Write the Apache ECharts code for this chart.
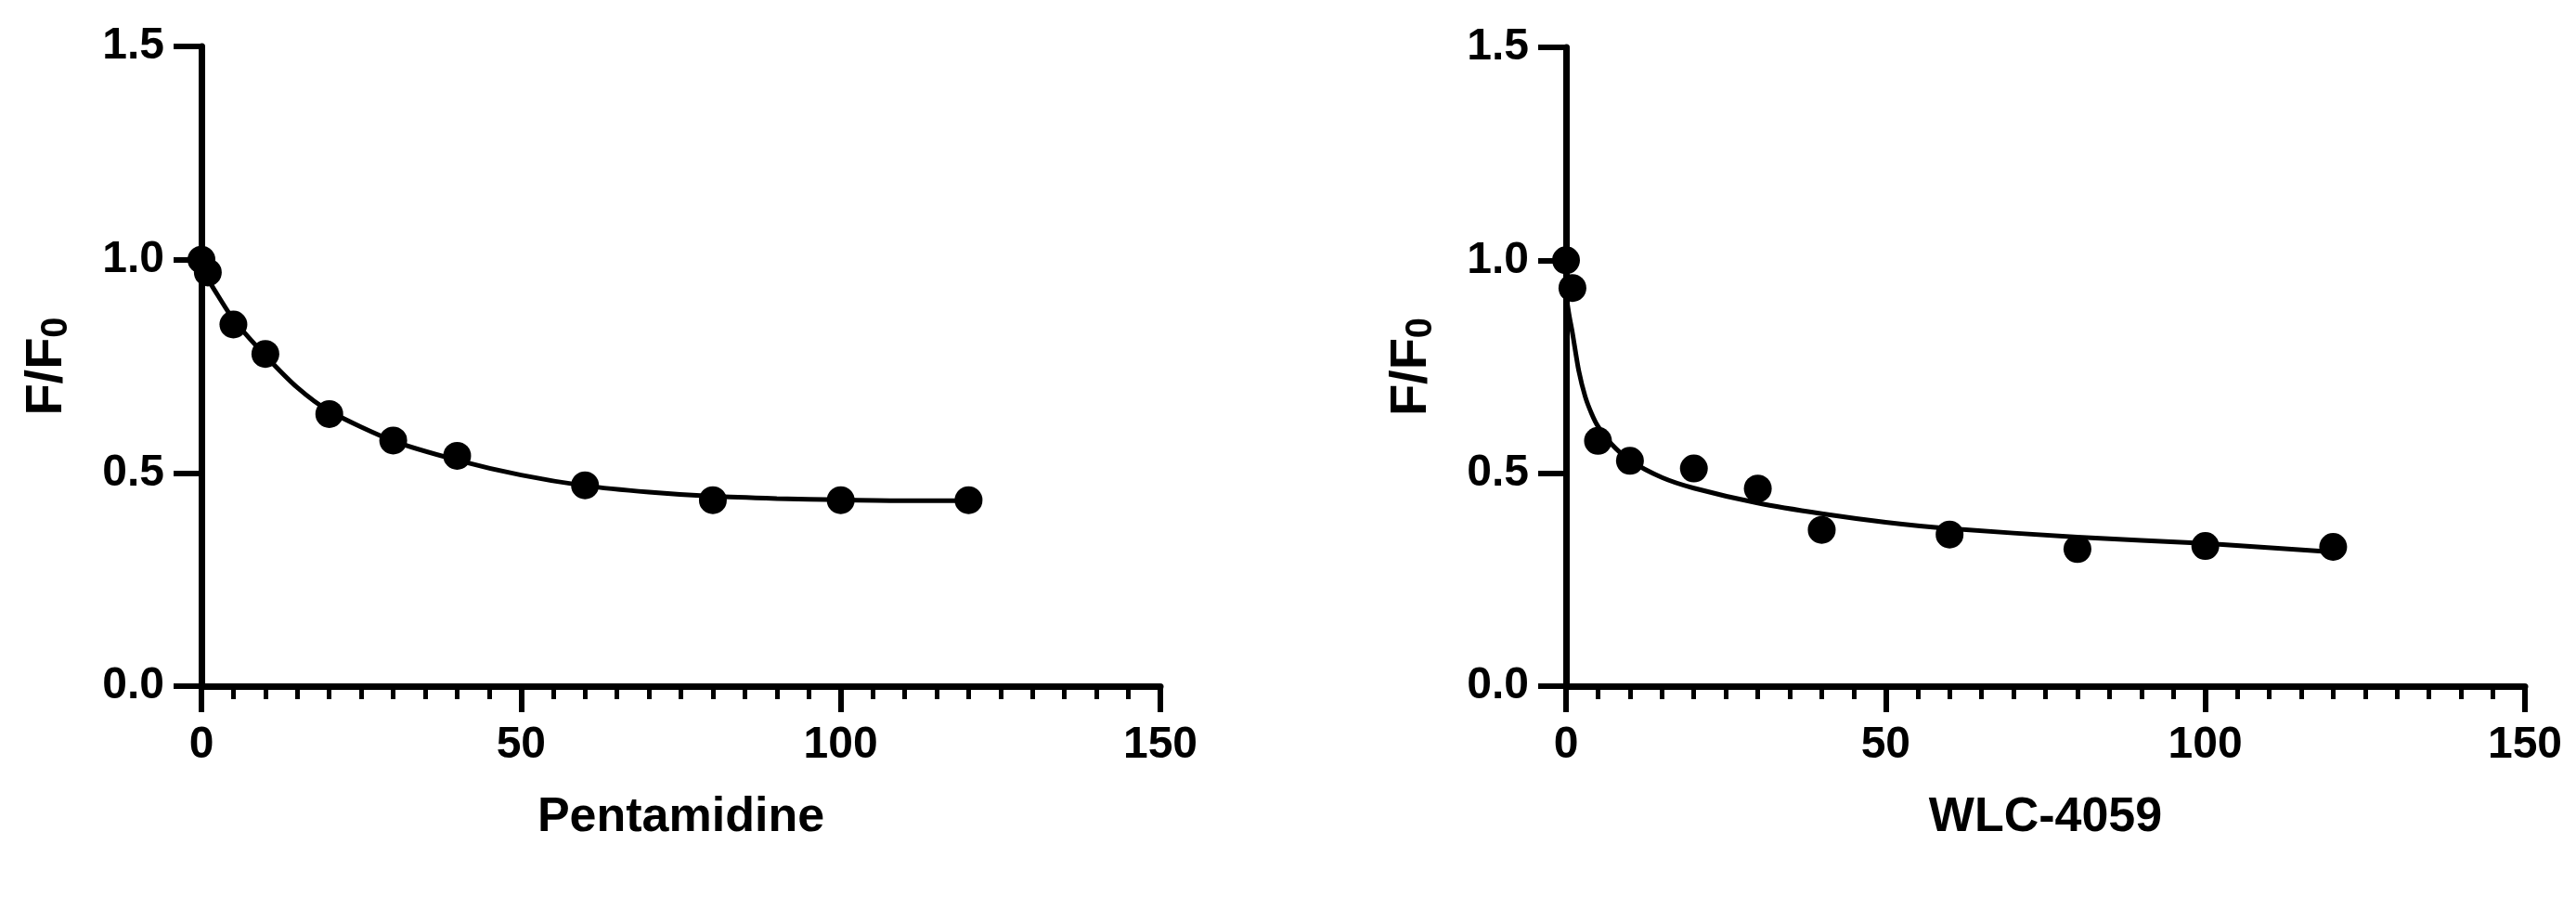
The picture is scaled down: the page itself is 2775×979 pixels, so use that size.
<!DOCTYPE html>
<html>
<head>
    <meta charset="UTF-8">
    <title>F/F0 quenching</title>
    <script src="https://cdn.jsdelivr.net/npm/echarts@6/dist/echarts.min.js"></script>
    <style>
        html, body { margin: 0; padding: 0; background: #fff; }
        #main { width: 2775px; height: 979px; }
    </style>
</head>
<body>
<div id="main"></div>
<script type="text/javascript">
    // measured points
    let pentaX = [0, 1, 5, 10, 20, 30, 40, 60, 80, 100, 120];
    let pentaY = [1.00, 0.97, 0.848, 0.779, 0.638, 0.576, 0.540, 0.471, 0.436, 0.436, 0.436];
    let wlcX = [0, 1, 5, 10, 20, 30, 40, 60, 80, 100, 120];
    let wlcY = [1.00, 0.935, 0.576, 0.529, 0.511, 0.464, 0.367, 0.356, 0.322, 0.329, 0.327];

    // fitted curves
    let pentaFitX = [0, 2, 5, 10, 15, 20, 30, 40, 50, 60, 70, 80, 90, 100, 110, 120];
    let pentaFitY = [0.98, 0.93, 0.86, 0.775, 0.70, 0.645, 0.575, 0.530, 0.495, 0.470, 0.455, 0.445, 0.440, 0.437, 0.435, 0.435];
    let wlcFitX = [0, 0.5, 1, 2, 3, 4, 5, 7, 10, 15, 20, 30, 40, 50, 60, 80, 100, 120];
    let wlcFitY = [0.92, 0.87, 0.83, 0.74, 0.68, 0.64, 0.61, 0.57, 0.53, 0.49, 0.465, 0.43, 0.405, 0.385, 0.37, 0.35, 0.335, 0.315];

    let xTicks = [0, 50, 100, 150];
    let yTicks = [0, 0.5, 1.0, 1.5];
    let names = ['Pentamidine', 'WLC-4059'];

    function pairs(xs, ys) {
        return xs.map(function (x, i) { return [x, ys[i]]; });
    }

    let font = '"Liberation Sans", Arial, sans-serif';
    let black = '#000';

    function xAxis(idx, name) {
        return {
            type: 'value', gridIndex: idx,
            min: xTicks[0], max: xTicks[xTicks.length - 1], interval: 50,
            name: name, nameLocation: 'middle', nameGap: 116,
            nameTextStyle: { fontFamily: font, fontWeight: 'bold', fontSize: 52, color: black },
            axisLine: { lineStyle: { color: black, width: 7 } },
            axisTick: { length: 28, lineStyle: { color: black, width: 6 } },
            minorTick: { show: true, splitNumber: 10, length: 14, lineStyle: { color: black, width: 5 } },
            splitLine: { show: false },
            axisLabel: { margin: 40, fontFamily: font, fontWeight: 'bold', fontSize: 48, color: black }
        };
    }

    function yAxis(idx) {
        return {
            type: 'value', gridIndex: idx,
            min: yTicks[0], max: yTicks[yTicks.length - 1], interval: 0.5,
            name: '{a|F/F}{b|0}', nameLocation: 'middle', nameGap: 136, nameRotate: 90,
            nameTextStyle: {
                rich: {
                    a: { fontFamily: font, fontWeight: 'bold', fontSize: 56, color: black, lineHeight: 60, verticalAlign: 'middle' },
                    b: { fontFamily: font, fontWeight: 'bold', fontSize: 40, color: black, lineHeight: 40, verticalAlign: 'bottom', padding: [30, 0, 0, 0] }
                }
            },
            axisLine: { lineStyle: { color: black, width: 7 } },
            axisTick: { length: 30, lineStyle: { color: black, width: 6 } },
            splitLine: { show: false },
            axisLabel: {
                margin: 40, fontFamily: font, fontWeight: 'bold', fontSize: 48, color: black,
                formatter: function (v) { return v.toFixed(1); }
            }
        };
    }

    function scatter(idx, data) {
        return {
            type: 'scatter', xAxisIndex: idx, yAxisIndex: idx,
            data: data, symbol: 'circle', symbolSize: 30,
            itemStyle: { color: black, opacity: 1 }, z: 5
        };
    }

    function fit(idx, data) {
        return {
            type: 'line', xAxisIndex: idx, yAxisIndex: idx,
            data: data, smooth: 0.25, showSymbol: false,
            lineStyle: { color: black, width: 5 }, z: 4
        };
    }

    let option = {
        backgroundColor: '#fff',
        animation: false,
        grid: [
            { left: 217, right: 1525, top: 50, bottom: 240 },
            { left: 1687, right: 55, top: 51, bottom: 240 }
        ],
        xAxis: [xAxis(0, names[0]), xAxis(1, names[1])],
        yAxis: [yAxis(0), yAxis(1)],
        series: [
            fit(0, pairs(pentaFitX, pentaFitY)),
            scatter(0, pairs(pentaX, pentaY)),
            fit(1, pairs(wlcFitX, wlcFitY)),
            scatter(1, pairs(wlcX, wlcY))
        ]
    };

    let myChart = echarts.init(document.getElementById('main'));
    myChart.setOption(option);
</script>
</body>
</html>
